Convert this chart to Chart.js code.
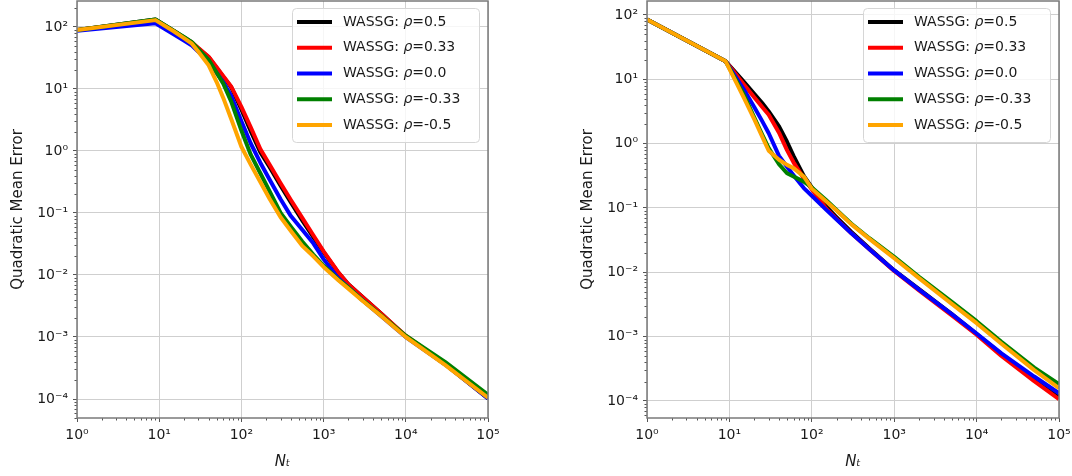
<!DOCTYPE html>
<html>
<head>
<meta charset="utf-8">
<script src="https://cdn.jsdelivr.net/npm/chart.js@4.4.0/dist/chart.umd.min.js"></script>
<style>
  html, body { margin: 0; padding: 0; background: #fff; }
  #wrap { position: relative; width: 1072px; height: 476px; }
  canvas { position: absolute; top: 0; }
</style>
</head>
<body>
<div id="wrap">
  <canvas id="left" width="536" height="476" style="left:0"></canvas>
  <canvas id="right" width="536" height="476" style="left:536px"></canvas>
</div>
<script>
// Series
const seriesLabels = ['WASSG: ρ=0.5', 'WASSG: ρ=0.33', 'WASSG: ρ=0.0', 'WASSG: ρ=-0.33', 'WASSG: ρ=-0.5'];
const seriesColors = ['#000000', '#ff0000', '#0000ff', '#008000', '#ffa500'];

// Ticks
const xTickValues = [1, 10, 100, 1000, 10000, 100000];
const xTickLabels = ['10⁰', '10¹', '10²', '10³', '10⁴', '10⁵'];
const yTickValues = [1e-4, 1e-3, 1e-2, 1e-1, 1, 10, 100];
const yTickLabels = ['10⁻⁴', '10⁻³', '10⁻²', '10⁻¹', '10⁰', '10¹', '10²'];

// Left panel
const leftNt = [1, 9, 15, 20, 25, 30, 40, 50, 60, 75, 100, 130, 170, 220, 300, 400, 550, 750, 1000, 1500, 2000, 3000, 5000, 10000, 30000, 100000];
const leftRho05   = [89.1, 131.8, 87.1, 67.6, 56.2, 44.7, 32.4, 21.9, 15.8, 10.7, 4.68, 2.09, 0.955, 0.550, 0.275, 0.148, 0.0759, 0.0407, 0.0234, 0.0110, 0.00708, 0.00437, 0.00240, 0.00102, 0.000363, 0.000102];
const leftRho033  = [89.1, 128.8, 85.1, 67.6, 56.2, 45.7, 33.1, 22.4, 16.2, 11.0, 5.13, 2.40, 1.07, 0.603, 0.302, 0.162, 0.0832, 0.0437, 0.0240, 0.0112, 0.00708, 0.00437, 0.00240, 0.00105, 0.000372, 0.000105];
const leftRho0    = [87.1, 114.8, 75.9, 60.3, 50.1, 39.8, 28.2, 18.2, 12.9, 7.76, 3.02, 1.32, 0.646, 0.347, 0.166, 0.0891, 0.0537, 0.0324, 0.0180, 0.00891, 0.00631, 0.00389, 0.00219, 0.001, 0.000363, 0.000102];
const leftRhoM033 = [89.1, 131.8, 87.1, 69.2, 56.9, 43.7, 29.5, 18.2, 12.3, 6.31, 2.14, 0.871, 0.437, 0.224, 0.1, 0.0603, 0.0347, 0.0214, 0.0141, 0.00851, 0.00631, 0.00389, 0.00224, 0.00105, 0.000398, 0.000117];
const leftRhoM05  = [89.1, 128.8, 85.1, 66.1, 53.7, 39.8, 24.0, 12.9, 7.24, 3.31, 1.17, 0.603, 0.316, 0.170, 0.0851, 0.0513, 0.0295, 0.0200, 0.0135, 0.00832, 0.00603, 0.00380, 0.00219, 0.001, 0.000355, 0.000105];

// Right panel
const rightNt = [1, 9, 12, 15, 20, 25, 30, 40, 50, 60, 80, 100, 150, 200, 300, 500, 1000, 2000, 5000, 10000, 20000, 50000, 100000];
const rightRho05   = [85.1, 19.05, 12.6, 9.12, 5.97, 4.27, 3.16, 1.86, 1.07, 0.646, 0.316, 0.209, 0.105, 0.0716, 0.0427, 0.0234, 0.0107, 0.00550, 0.00224, 0.00110, 0.000537, 0.000219, 0.000117];
const rightRho033  = [85.1, 19.05, 12.0, 8.32, 5.25, 3.72, 2.82, 1.48, 0.794, 0.513, 0.288, 0.195, 0.0977, 0.0676, 0.0407, 0.0229, 0.0105, 0.00525, 0.00214, 0.00107, 0.000501, 0.000204, 0.000107];
const rightRho0    = [85.1, 19.05, 10.7, 6.92, 3.72, 2.24, 1.45, 0.646, 0.437, 0.324, 0.204, 0.155, 0.0933, 0.0661, 0.0407, 0.0229, 0.0107, 0.00537, 0.00224, 0.00112, 0.000550, 0.000240, 0.000132];
const rightRhoM033 = [85.1, 19.05, 9.77, 5.75, 2.57, 1.38, 0.851, 0.479, 0.347, 0.309, 0.257, 0.209, 0.132, 0.0933, 0.0575, 0.0339, 0.0174, 0.00851, 0.00347, 0.00174, 0.000832, 0.000331, 0.000182];
const rightRhoM05  = [85.1, 19.05, 9.12, 5.13, 2.40, 1.29, 0.776, 0.562, 0.468, 0.417, 0.309, 0.200, 0.126, 0.0912, 0.0562, 0.0331, 0.0166, 0.00813, 0.00324, 0.00162, 0.000776, 0.000302, 0.000158];

const FONT = "'DejaVu Sans', sans-serif";

// caja del eje completo (estilo matplotlib) + ticks menores
const axesBox = {
    id: 'axesBox',
    afterDatasetsDraw(chart) {
        const {ctx, chartArea: a, scales} = chart;
        ctx.save();
        ctx.strokeStyle = '#555';
        ctx.lineWidth = 1;
        ctx.beginPath();
        for (let k = 0; k < 5; k++) {
            for (let m = 2; m < 10; m++) {
                const px = Math.round(scales.x.getPixelForValue(m * Math.pow(10, k))) + 0.5;
                ctx.moveTo(px, a.bottom);
                ctx.lineTo(px, a.bottom + 2.5);
            }
        }
        for (let k = -5; k < 3; k++) {
            for (let m = 2; m < 10; m++) {
                const v = m * Math.pow(10, k);
                if (v < scales.y.min || v > scales.y.max) continue;
                const py = Math.round(scales.y.getPixelForValue(v)) + 0.5;
                ctx.moveTo(a.left, py);
                ctx.lineTo(a.left - 2.5, py);
            }
        }
        ctx.stroke();
        ctx.strokeStyle = '#7a7a7a';
        ctx.lineWidth = 1.5;
        ctx.strokeRect(a.left, a.top, a.right - a.left, a.bottom - a.top);
        ctx.restore();
    }
};

// leyenda dentro del área (upper right)
const innerLegend = {
    id: 'innerLegend',
    afterDraw(chart) {
        const {ctx, chartArea: a} = chart;
        const w = 187, h = 134;
        const x0 = a.right - 9 - w, y0 = a.top + 7;
        ctx.save();
        ctx.fillStyle = 'rgba(255,255,255,0.8)';
        ctx.strokeStyle = '#d6d6d6';
        ctx.lineWidth = 1;
        ctx.beginPath();
        ctx.roundRect(x0 + 0.5, y0 + 0.5, w, h, 4);
        ctx.fill();
        ctx.stroke();
        chart.data.datasets.forEach((ds, i) => {
            const y = y0 + 14 + i * 25.75;
            ctx.strokeStyle = ds.borderColor;
            ctx.lineWidth = 4;
            ctx.beginPath();
            ctx.moveTo(x0 + 5, y);
            ctx.lineTo(x0 + 40, y);
            ctx.stroke();
            const parts = ds.label.split('ρ');
            let tx = x0 + 51;
            ctx.fillStyle = '#1a1a1a';
            ctx.textBaseline = 'middle';
            ctx.font = '14px ' + FONT;
            ctx.fillText(parts[0], tx, y);
            tx += ctx.measureText(parts[0]).width;
            ctx.font = 'italic 14px ' + FONT;
            ctx.fillText('ρ', tx, y);
            tx += ctx.measureText('ρ').width;
            ctx.font = '14px ' + FONT;
            ctx.fillText(parts[1], tx, y);
        });
        ctx.restore();
    }
};

function crearGrafico(id, nt, series, yMin, yMax, padding) {
    const datasets = series.map((vals, i) => ({
        label: seriesLabels[i],
        data: nt.map((x, j) => ({x: x, y: vals[j]})),
        borderColor: seriesColors[i],
        backgroundColor: seriesColors[i],
        borderWidth: 4,
        pointRadius: 0,
        tension: 0,
        borderJoinStyle: 'round',
        order: series.length - i
    }));
    return new Chart(document.getElementById(id), {
        type: 'line',
        data: {datasets},
        options: {
            responsive: false,
            animation: false,
            devicePixelRatio: 1,
            layout: {padding},
            plugins: {legend: {display: false}, tooltip: {enabled: false}},
            scales: {
                x: {
                    type: 'logarithmic',
                    min: 1, max: 100000,
                    afterBuildTicks: s => { s.ticks = xTickValues.map(v => ({value: v})); },
                    afterFit: s => { s.height = 58; s.paddingLeft = 0; s.paddingRight = 0; },
                    grid: {color: '#cfcfcf', lineWidth: 1, tickLength: 4, tickColor: '#555'},
                    border: {display: false},
                    ticks: {
                        autoSkip: false, maxRotation: 0, padding: 5,
                        color: '#1a1a1a', font: {family: FONT, size: 14},
                        callback: v => xTickLabels[xTickValues.indexOf(v)]
                    },
                    title: {
                        display: true, text: 'Nₜ', color: '#1a1a1a',
                        font: {family: FONT, size: 15, style: 'italic'},
                        padding: {top: 0, bottom: 5}
                    }
                },
                y: {
                    type: 'logarithmic',
                    min: yMin, max: yMax,
                    afterBuildTicks: s => { s.ticks = yTickValues.map(v => ({value: v})); },
                    afterFit: s => { s.width = 77; s.paddingTop = 0; s.paddingBottom = 0; },
                    grid: {color: '#cfcfcf', lineWidth: 1, tickLength: 4, tickColor: '#555'},
                    border: {display: false},
                    ticks: {
                        autoSkip: false, padding: 5,
                        color: '#1a1a1a', font: {family: FONT, size: 14},
                        callback: v => yTickLabels[yTickValues.indexOf(v)]
                    },
                    title: {
                        display: true, text: 'Quadratic Mean Error', color: '#1a1a1a',
                        font: {family: FONT, size: 15},
                        padding: {top: 9, bottom: 0}
                    }
                }
            }
        },
        plugins: [axesBox, innerLegend]
    });
}

crearGrafico('left', leftNt,
    [leftRho05, leftRho033, leftRho0, leftRhoM033, leftRhoM05],
    4.94e-5, 262, {left: 0, right: 48, top: 1, bottom: 0});

crearGrafico('right', rightNt,
    [rightRho05, rightRho033, rightRho0, rightRhoM033, rightRhoM05],
    5.44e-5, 165, {left: 34, right: 13, top: 1, bottom: 0});
</script>
</body>
</html>
